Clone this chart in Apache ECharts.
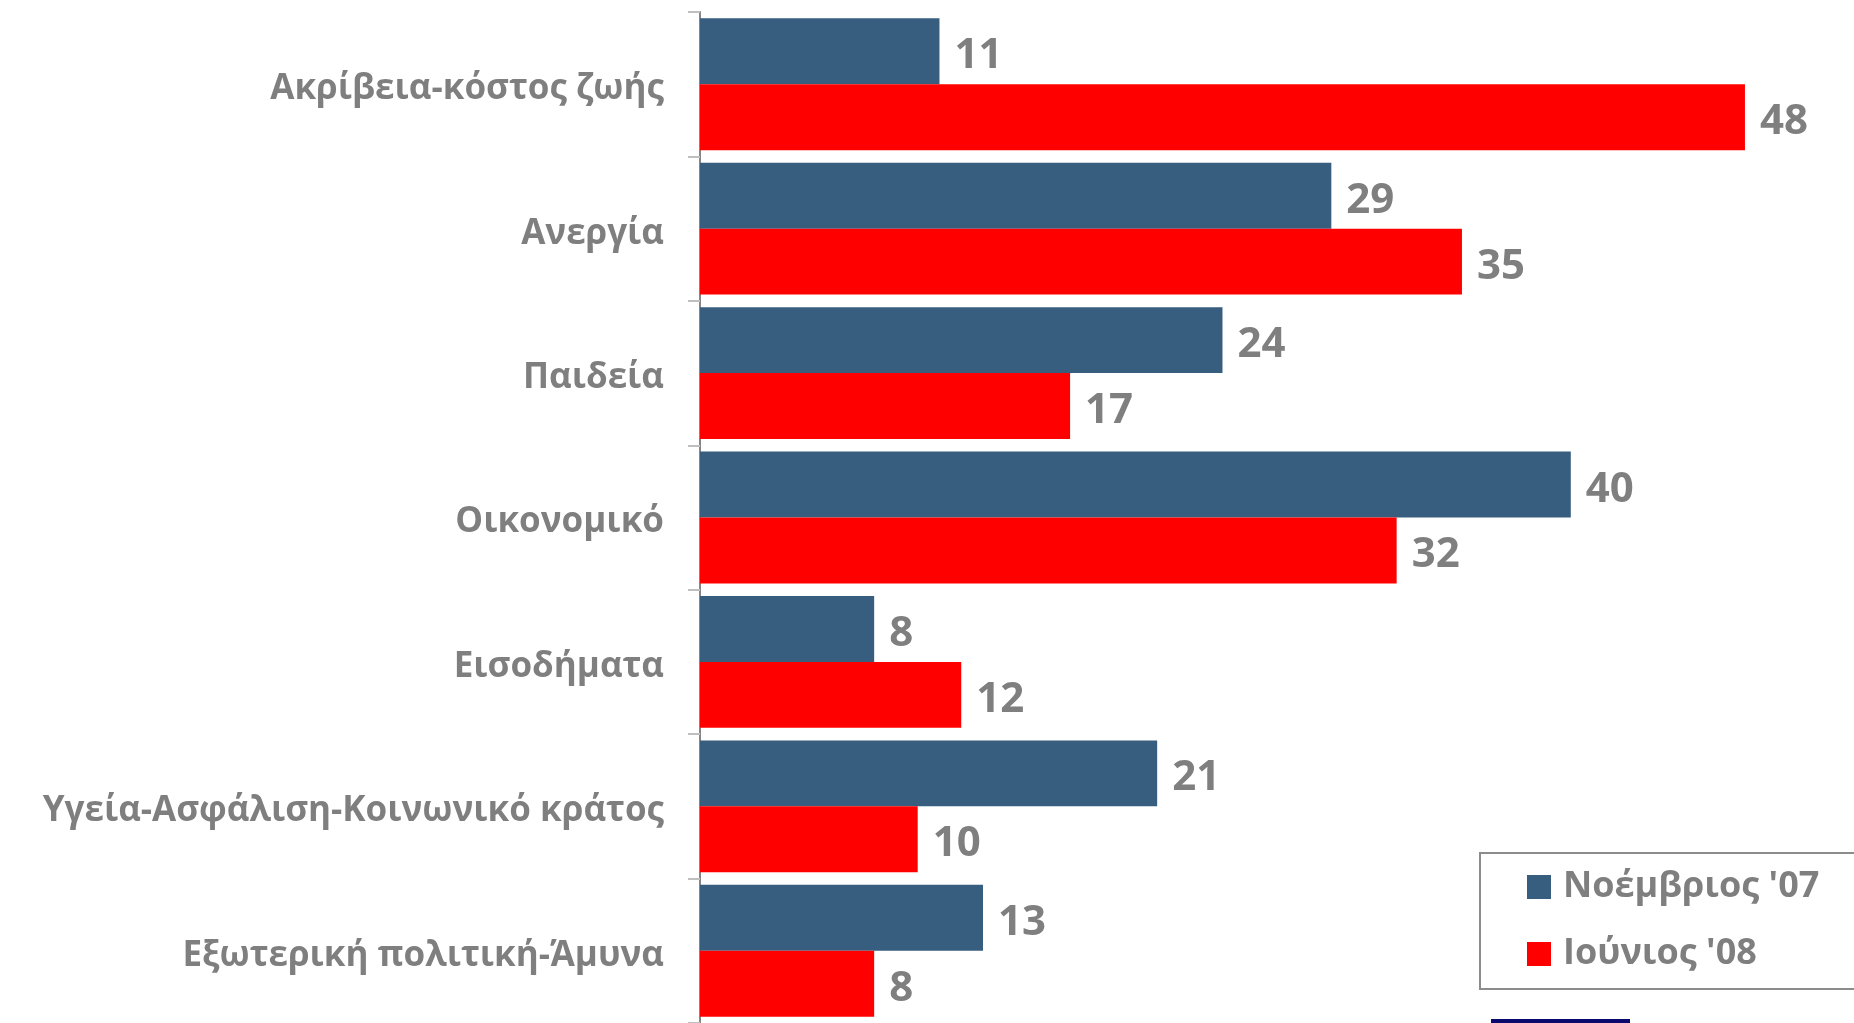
<!DOCTYPE html>
<html>
<head>
<meta charset="utf-8">
<script src="https://cdn.jsdelivr.net/npm/echarts@6/dist/echarts.min.js"></script>
<style>
html,body{margin:0;padding:0;background:#fff;}
#chart{width:1854px;height:1023px;}
</style>
</head>
<body>
<div id="chart"></div>
<script>
const categories = ["Ακρίβεια-κόστος ζωής","Ανεργία","Παιδεία","Οικονομικό","Εισοδήματα","Υγεία-Ασφάλιση-Κοινωνικό κράτος","Εξωτερική πολιτική-Άμυνα"];
const seriesNames = ["Νοέμβριος '07","Ιούνιος '08"];
const nov07 = [11,29,24,40,8,21,13];
const jun08 = [48,35,17,32,12,10,8];

const FONT = '"Open Sans", "Noto Sans", sans-serif';
const GRAY = '#7f7f7f';
const chart = echarts.init(document.getElementById('chart'));
const labelStyle = {show:true, position:'right', distance:15, offset:[0,5], color:GRAY, fontSize:42, fontWeight:'bold', fontFamily:FONT};
chart.setOption({
  animation:false,
  backgroundColor:'#ffffff',
  grid:{left:700, width:1088.5, top:12, height:1018.5, containLabel:false},
  xAxis:{type:'value', min:0, max:50, show:false},
  yAxis:{type:'category', data:categories, inverse:true,
    axisLine:{show:true, lineStyle:{color:'#868686', width:2}},
    axisTick:{show:true, length:12, lineStyle:{color:'#bfbfbf', width:2}},
    axisLabel:{margin:36, formatter: v => '{a|' + v + '}',
      rich:{a:{color:GRAY, fontSize:35, fontWeight:'bold', fontFamily:FONT, padding:[10,0,0,0]}}}
  },
  legend:{orient:'vertical', left:1527, top:869, padding:0, itemWidth:24, itemHeight:24, itemGap:31,
    icon:'rect', data:seriesNames,
    textStyle:{color:GRAY, fontSize:36, fontWeight:'bold', fontFamily:FONT, padding:[0,0,0,7]}},
  graphic:[
    {type:'rect', shape:{x:1480, y:853, width:420, height:136}, style:{fill:'none', stroke:'#8c8c8c', lineWidth:2}, z:-1},
    {type:'rect', shape:{x:1491, y:1019, width:139, height:4}, style:{fill:'#0a0a6e'}}
  ],
  series:[
    {name:seriesNames[0], type:'bar', data:nov07, barGap:'0%', barCategoryGap:'8.7%',
     itemStyle:{color:'#375d7f'}, label:labelStyle},
    {name:seriesNames[1], type:'bar', data:jun08, barGap:'0%', barCategoryGap:'8.7%',
     itemStyle:{color:'#ff0000'}, label:labelStyle}
  ]
});
</script>
</body>
</html>
